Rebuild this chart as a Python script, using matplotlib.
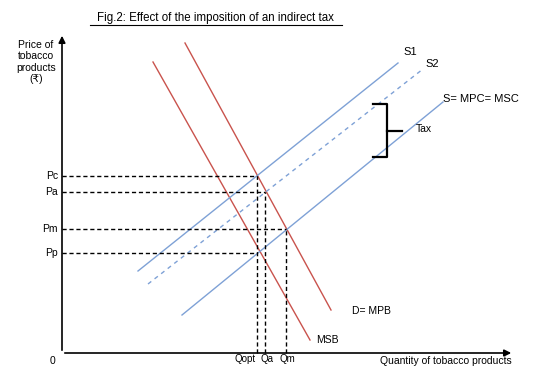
import matplotlib.pyplot as plt

plt.rcParams['font.family'] = ['Liberation Sans', 'DejaVu Sans']

# curve end points (quantity, price) in chart units, origin at the axes corner
msb = ([91, 248], [291, 13])
mpb = ([123, 269], [310, 43])
s1 = ([76, 336], [82, 290])
s2 = ([86, 361], [69, 284])
s_mpc = ([120, 381], [38, 251])

price_labels = ['Pc', 'Pa', 'Pm', 'Pp']
price_levels = [177, 161, 124, 100]
price_qty = [195, 203, 224, 195]

qty_labels = ['Qopt', 'Qa', 'Qm']
qty_levels = [195, 203, 224]
qty_price = [177, 161, 124]
qty_label_x = [183, 205, 225]

tax_top, tax_bottom, tax_x = 249, 196, 325

blue = '#7ea1d6'
red = '#c9534d'

fig = plt.figure(figsize=(5.35, 3.8), dpi=100)
ax = fig.add_axes([0, 0, 1, 1])
ax.set_xlim(-62, 473)
ax.set_ylim(-27, 353)
ax.axis('off')

# axes with arrows
ax.annotate('', xy=(0, 320), xytext=(0, 0),
            arrowprops=dict(arrowstyle='-|>', color='black', lw=1.2, mutation_scale=10))
ax.annotate('', xy=(452, 0), xytext=(0, 0),
            arrowprops=dict(arrowstyle='-|>', color='black', lw=1.2, mutation_scale=10))

ax.plot(*msb, color=red, lw=1)
ax.plot(*mpb, color=red, lw=1)
ax.plot(*s1, color=blue, lw=1)
ax.plot(*s2, color=blue, lw=1, ls=(0, (3, 3)))
ax.plot(*s_mpc, color=blue, lw=1)

for lab, p, q in zip(price_labels, price_levels, price_qty):
    ax.plot([0, q], [p, p], color='black', lw=1, ls=(0, (3, 2)))
    ax.text(-4, p, lab, ha='right', va='center', fontsize=7.5)
for lab, q, p, lx in zip(qty_labels, qty_levels, qty_price, qty_label_x):
    ax.plot([q, q], [0, p], color='black', lw=1, ls=(0, (3, 2)))
    ax.text(lx, -6, lab, ha='center', va='center', fontsize=7)

# tax bracket
ax.plot([tax_x - 14, tax_x, tax_x, tax_x - 14], [tax_top, tax_top, tax_bottom, tax_bottom],
        color='black', lw=1.6)
ax.plot([tax_x, tax_x + 15], [(tax_top + tax_bottom) / 2] * 2, color='black', lw=1.6)
ax.text(tax_x + 29, (tax_top + tax_bottom) / 2 + 1, 'Tax', ha='left', va='center', fontsize=7.5)

ax.text(341, 301, 'S1', ha='left', va='center', fontsize=8)
ax.text(363, 289, 'S2', ha='left', va='center', fontsize=8)
ax.text(381, 254, 'S= MPC= MSC', ha='left', va='center', fontsize=8)
ax.text(290, 42, 'D= MPB', ha='left', va='center', fontsize=7.5)
ax.text(254, 13, 'MSB', ha='left', va='center', fontsize=7.5)

ax.text(-10, -8, '0', ha='center', va='center', fontsize=7.5)
ax.text(450, -8, 'Quantity of tobacco products', ha='right', va='center', fontsize=7.5)
ax.text(-26, 291, 'Price of\ntobacco\nproducts\n(₹)', ha='center', va='center',
        fontsize=7.5, linespacing=1.15)

ax.text(153, 335, 'Fig.2: Effect of the imposition of an indirect tax',
        ha='center', va='center', fontsize=8.3)
ax.plot([28, 280], [328, 328], color='black', lw=0.8)

fig.savefig('out.png', dpi=100)
